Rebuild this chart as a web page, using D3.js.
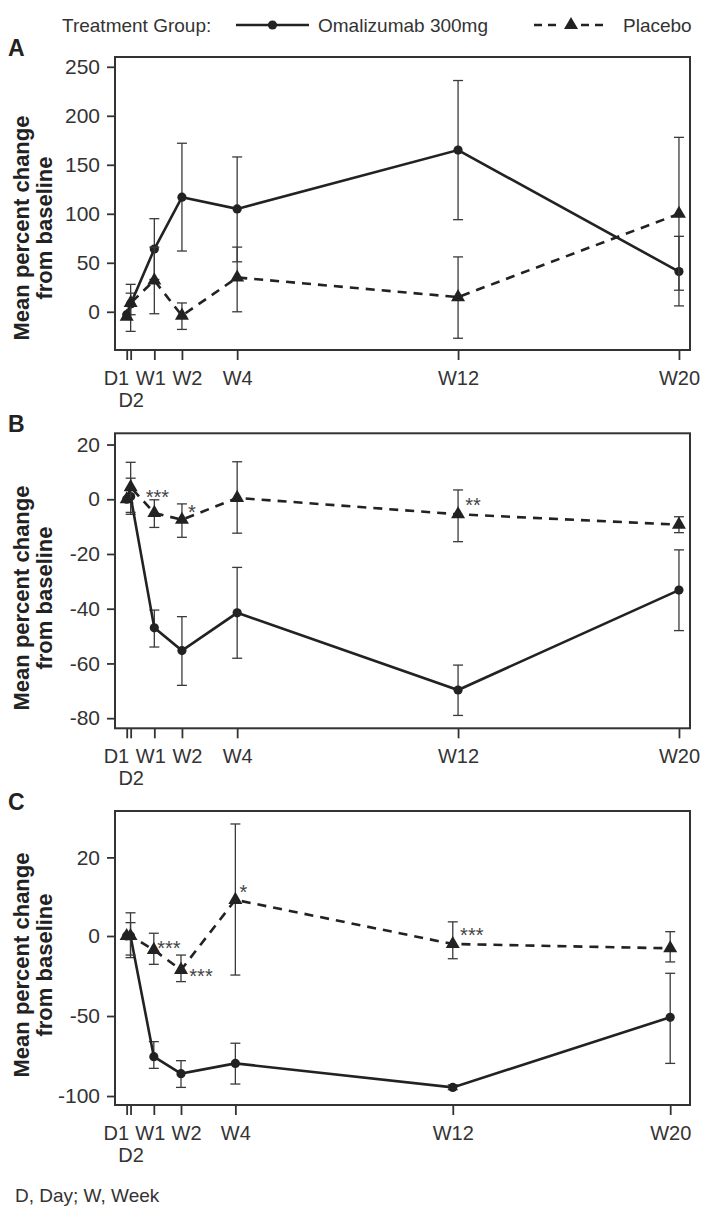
<!DOCTYPE html>
<html><head><meta charset="utf-8">
<script src="https://cdn.jsdelivr.net/npm/d3@7"></script>
<style>
body{margin:0;background:#fff}
svg{display:block;font-family:"Liberation Sans",Arial,Helvetica,sans-serif}
</style>
</head><body>
<svg id="chart" width="708" height="1218"></svg>
<script>
// ---------- data ----------
const days = [0, 1, 7, 14, 28, 84, 140];
const tickLabels = ["D1", "D2", "W1", "W2", "W4", "W12", "W20"];
const seriesNames = ["Omalizumab 300mg", "Placebo"];
const legendTitle = "Treatment Group:";
const yTitle = ["Mean percent change", "from baseline"];
const footnote = "D, Day; W, Week";

// Panel A
const omaA    = [-3, 8, 64, 117, 105, 165, 41];
const omaALo  = [null, -3, 33, 62, 51, 94, 6];
const omaAHi  = [null, 19, 95, 172, 158, 236, 77];
const plaA    = [-5, 9, 32, -4, 35, 15, 100];
const plaALo  = [null, -20, -2, -18, 0, -27, 22];
const plaAHi  = [null, 28, 66, 9, 66, 56, 178];
const yTicksA = [0, 50, 100, 150, 200, 250];

// Panel B
const omaB    = [0, 1, -47, -55.3, -41.5, -69.7, -33.2];
const omaBLo  = [null, -5.5, -54, -68, -58.1, -79, -48];
const omaBHi  = [null, 7.7, -40.5, -42.9, -24.9, -60.6, -18.5];
const plaB    = [0, 4.4, -5, -7.5, 0.5, -5.5, -9.3];
const plaBLo  = [null, -4.8, -10.3, -13.9, -12.4, -15.5, -12.2];
const plaBHi  = [null, 13.5, -0.2, -1.7, 13.7, 3.4, -6.4];
const yTicksB = [-80, -60, -40, -20, 0, 20];
const sigB    = ["", "", "***", "*", "", "**", ""];

// Panel C
const omaC    = [0, 0, -75.4, -86, -79.6, -94.6, -50.8];
const omaCLo  = [null, -13.5, -82.7, -94.6, -92.5, -96, -79.6];
const omaCHi  = [null, 3.4, -66, -77.9, -67, -93, -23.3];
const plaC    = [0, 0, -8.7, -21.2, 9.2, -5, -7.7];
const plaCLo  = [null, -11.9, -17.7, -28.5, -24.4, -14.2, -16.2];
const plaCHi  = [null, 5.9, 0.7, -11.9, 28.5, 3.6, 1.1];
const yTicksC = [-100, -50, 0, 20];
const sigC    = ["", "", "***", "***", "*", "***", ""];

// ---------- layout ----------
const svg = d3.select("#chart");
const INK = "#222", AX = "#333";
const left = 115, right = 690;
// horizontal nudges of the x tick labels so neighbours do not collide
const labelNudge = [2, 0, -4, 5, 0, 0, 0];

const panels = [
  {letter: "A", top: 57, bottom: 350, xDom: [-2.97, 142.8],
   yDom: [-39, 260], yRng: [350, 57], ticks: yTicksA, titleY: 228,
   oma: [omaA, omaALo, omaAHi], pla: [plaA, plaALo, plaAHi], sig: null, sigOff: null},
  {letter: "B", top: 433.3, bottom: 728.3, xDom: [-2.97, 142.8],
   yDom: [-83.7, 24.1], yRng: [728.3, 433.3], ticks: yTicksB, titleY: 598,
   oma: [omaB, omaBLo, omaBHi], pla: [plaB, plaBLo, plaBHi], sig: sigB,
   sigOff: {2: [3, -20], 3: [10, -12], 5: [15, -13]}},
  {letter: "C", top: 811, bottom: 1105, xDom: [-3, 145.1],
   yDom: [-105.6, 0, 31.8], yRng: [1105, 936, 811], ticks: yTicksC, titleY: 965,
   oma: [omaC, omaCLo, omaCHi], pla: [plaC, plaCLo, plaCHi], sig: sigC,
   sigOff: {2: [15, -6], 3: [20, 2], 4: [8, -12], 5: [19, -13]}}
];

const triSym = d3.symbol().type(d3.symbolTriangle).size(85);

panels.forEach(p => {
  const x = d3.scaleLinear().domain(p.xDom).range([left, right]);
  const y = d3.scaleLinear().domain(p.yDom).range(p.yRng);
  const g = svg.append("g");

  // panel letter
  g.append("text").attr("x", 8).attr("y", p.top - 1)
    .attr("font-size", 23).attr("font-weight", "bold").attr("fill", INK).text(p.letter);

  // y axis title
  yTitle.forEach((t, i) => {
    g.append("text")
      .attr("transform", `translate(${29 + i * 22.5},${p.titleY}) rotate(-90)`)
      .attr("text-anchor", "middle").attr("font-size", 22).attr("font-weight", "bold")
      .attr("fill", INK).text(t);
  });

  // y axis
  const ya = g.append("g").attr("transform", `translate(${left},0)`)
    .call(d3.axisLeft(y).tickValues(p.ticks).tickSize(8).tickPadding(7).tickFormat(d => String(d)));
  ya.select(".domain").remove();
  ya.selectAll("line").attr("stroke", AX).attr("stroke-width", 1.8);
  ya.selectAll("text").attr("font-size", 21).attr("fill", AX).attr("font-family", null);

  // x axis
  const xa = g.append("g").attr("transform", `translate(0,${p.bottom})`)
    .call(d3.axisBottom(x).tickValues(days).tickSize(10).tickFormat((d, i) => tickLabels[i]));
  xa.select(".domain").remove();
  xa.selectAll("line").attr("stroke", AX).attr("stroke-width", 1.8);
  xa.selectAll("text").attr("font-size", 20).attr("fill", AX).attr("font-family", null)
    .attr("dy", null).attr("y", 35)
    .each(function(d, i) {
      const t = d3.select(this);
      t.attr("x", labelNudge[i]);
      if (i === 0) t.attr("text-anchor", "end");
      if (i === 1) t.attr("y", 57);
    });

  // frame
  g.append("rect").attr("x", left).attr("y", p.top)
    .attr("width", right - left).attr("height", p.bottom - p.top)
    .attr("fill", "none").attr("stroke", AX).attr("stroke-width", 2);

  const drawSeries = (vals, lo, hi, dashed, marker) => {
    const pts = days.map((d, i) => ({d, v: vals[i], lo: lo[i], hi: hi[i]}));
    // error bars
    const eb = g.append("g").attr("stroke", "#3a3a3a").attr("stroke-width", 1.3).attr("fill", "none");
    pts.filter(q => q.lo != null).forEach(q => {
      const cx = x(q.d);
      eb.append("line").attr("x1", cx).attr("x2", cx).attr("y1", y(q.lo)).attr("y2", y(q.hi));
      eb.append("line").attr("x1", cx - 5).attr("x2", cx + 5).attr("y1", y(q.lo)).attr("y2", y(q.lo));
      eb.append("line").attr("x1", cx - 5).attr("x2", cx + 5).attr("y1", y(q.hi)).attr("y2", y(q.hi));
    });
    // line
    g.append("path").datum(pts)
      .attr("d", d3.line().x(q => x(q.d)).y(q => y(q.v)))
      .attr("fill", "none").attr("stroke", INK).attr("stroke-width", 2.6)
      .attr("stroke-dasharray", dashed ? "9,7" : null);
    // markers
    if (marker === "circle") {
      g.selectAll(null).data(pts).join("circle")
        .attr("cx", q => x(q.d)).attr("cy", q => y(q.v)).attr("r", 4.6).attr("fill", INK);
    } else {
      g.selectAll(null).data(pts).join("path")
        .attr("d", triSym).attr("transform", q => `translate(${x(q.d)},${y(q.v)})`).attr("fill", INK);
    }
    return pts;
  };

  drawSeries(p.oma[0], p.oma[1], p.oma[2], false, "circle");
  const plaPts = drawSeries(p.pla[0], p.pla[1], p.pla[2], true, "triangle");

  // significance labels (placebo vs omalizumab)
  if (p.sig) {
    p.sig.forEach((s, i) => {
      if (!s) return;
      const off = p.sigOff[i];
      g.append("text")
        .attr("x", x(plaPts[i].d) + off[0])
        .attr("y", y(plaPts[i].v) + off[1] + 11)
        .attr("text-anchor", "middle")
        .attr("font-size", 20).attr("fill", "#444").text(s);
    });
  }
});

// ---------- legend ----------
const lg = svg.append("g");
lg.append("text").attr("x", 62).attr("y", 32).attr("font-size", 19).attr("fill", AX).text(legendTitle);
lg.append("line").attr("x1", 236).attr("x2", 309).attr("y1", 25).attr("y2", 25)
  .attr("stroke", INK).attr("stroke-width", 2.6);
lg.append("circle").attr("cx", 272.5).attr("cy", 25).attr("r", 4.6).attr("fill", INK);
lg.append("text").attr("x", 318).attr("y", 32).attr("font-size", 19).attr("fill", AX).text(seriesNames[0]);
[[534, 561], [581, 608]].forEach(s => {
  lg.append("line").attr("x1", s[0]).attr("x2", s[1]).attr("y1", 25).attr("y2", 25)
    .attr("stroke", INK).attr("stroke-width", 2.6).attr("stroke-dasharray", "8,6");
});
lg.append("path").attr("d", triSym).attr("transform", "translate(571,25)").attr("fill", INK);
lg.append("text").attr("x", 623).attr("y", 32).attr("font-size", 19).attr("fill", AX).text(seriesNames[1]);

// footnote
svg.append("text").attr("x", 15).attr("y", 1202).attr("font-size", 19).attr("fill", AX).text(footnote);
</script>
</body></html>
